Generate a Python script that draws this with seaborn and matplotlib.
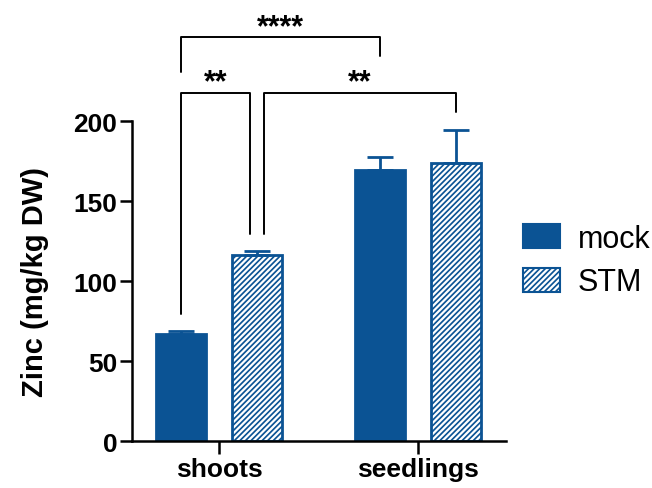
import pandas as pd
import numpy as np
import seaborn as sns
import matplotlib.pyplot as plt
from matplotlib.patches import Patch, Rectangle

# values
tissues = ["shoots", "seedlings"]
treatments = ["mock", "STM"]
mock_zinc = [67, 169.5]
stm_zinc = [116, 173.5]
mock_err = [1.5, 8]
stm_err = [2.5, 21]

# significance comparisons: (tissue, treatment) pairs and label
comparisons = [
    (("shoots", "mock"), ("shoots", "STM"), "**"),
    (("shoots", "STM"), ("seedlings", "STM"), "**"),
    (("shoots", "mock"), ("seedlings", "mock"), "****"),
]

blue = "#0b5394"

df = pd.DataFrame({
    "tissue": tissues * 2,
    "treatment": [treatments[0]] * 2 + [treatments[1]] * 2,
    "zinc": mock_zinc + stm_zinc,
    "err": mock_err + stm_err,
})

sns.set_theme(style="ticks")
plt.rcParams['font.family'] = ['Liberation Sans', 'DejaVu Sans']
plt.rcParams['hatch.linewidth'] = 1.6
for k in ['text.color', 'axes.labelcolor', 'xtick.color', 'ytick.color', 'axes.edgecolor']:
    plt.rcParams[k] = 'black'

fig = plt.figure(figsize=(6.52, 4.89), dpi=100)
ax = fig.add_axes([0.2025, 0.096, 0.5735, 0.6545])

sns.barplot(data=df, x="tissue", y="zinc", hue="treatment", order=tissues,
            hue_order=treatments, palette=[blue, blue], width=0.76, gap=0.34,
            errorbar=None, legend=False, linewidth=2, edgecolor=blue,
            saturation=1, ax=ax)

hatch = "//////"
# hatch STM bars: white lines on blue, blue outline on top
for p in ax.containers[1]:
    p.set_facecolor(blue)
    p.set_edgecolor("white")
    p.set_linewidth(0)
    p.set_hatch(hatch)
    ax.add_patch(Rectangle(p.get_xy(), p.get_width(), p.get_height(),
                           fill=False, edgecolor=blue, lw=2, zorder=p.get_zorder() + 0.1))

# upward-only error bars
centers = {}
tops = {}
for cont, trt in zip(ax.containers[:2], treatments):
    sub = df[df.treatment == trt].set_index("tissue").loc[tissues]
    xs = [p.get_x() + p.get_width() / 2 for p in cont]
    ax.errorbar(xs, sub["zinc"], yerr=[np.zeros(len(xs)), sub["err"]], fmt="none",
                ecolor=blue, elinewidth=2, capsize=9.5, capthick=2, zorder=1)
    for t, x, v, e in zip(tissues, xs, sub["zinc"], sub["err"]):
        centers[(t, trt)] = x
        tops[(t, trt)] = v + e

ax.set_ylim(0, 200)
ax.set_xlim(-0.437, 1.44)
ax.set_yticks([0, 50, 100, 150, 200])
ax.set_xlabel("")
ax.set_ylabel("Zinc (mg/kg DW)", fontsize=21, fontweight="bold", labelpad=18)
ax.tick_params(axis="y", length=8.5, width=1.8, labelsize=19, pad=2)
ax.tick_params(axis="x", length=9, width=1.8, labelsize=19, pad=2.5)
for lab in ax.get_xticklabels() + ax.get_yticklabels():
    lab.set_fontweight("bold")
for s in ["left", "bottom"]:
    ax.spines[s].set_linewidth(1.8)
sns.despine(ax=ax)

# significance brackets
off = 0.035
gap = 11
bk = dict(color="black", lw=1.4, clip_on=False)
tk = dict(ha="center", va="baseline", fontsize=22, fontweight="bold", clip_on=False)
(a1, b1, l1), (a2, b2, l2), (a3, b3, l3) = comparisons
y_low = 217.5
xl1, xr1 = centers[a1], centers[b1] - off
ax.plot([xl1, xl1, xr1, xr1], [tops[a1] + gap, y_low, y_low, tops[b1] + gap], **bk)
ax.text((xl1 + xr1) / 2, y_low + 2, l1, **tk)
xl2, xr2 = centers[a2] + off, centers[b2]
ax.plot([xl2, xl2, xr2, xr2], [tops[a2] + gap, y_low, y_low, tops[b2] + gap], **bk)
ax.text((xl2 + xr2) / 2, y_low + 2, l2, **tk)
y_high = 252.5
xl3, xr3 = centers[a3], centers[b3]
ax.plot([xl3, xl3, xr3, xr3], [230.6, y_high, y_high, 240.6], **bk)
ax.text((xl3 + xr3) / 2, y_high + 1, l3, **tk)

# legend
handles = [Patch(facecolor=blue, edgecolor=blue, lw=1.5),
           (Patch(facecolor=blue, edgecolor="white", lw=0, hatch=hatch),
            Patch(fill=False, edgecolor=blue, lw=1.5))]
fig.legend(handles, treatments, loc="center left", bbox_to_anchor=(0.802, 0.465),
           frameon=False, fontsize=22, handlelength=1.2, handleheight=0.82,
           handletextpad=0.6, labelspacing=0.45, borderpad=0, borderaxespad=0)

fig.savefig("out.png", dpi=100)
